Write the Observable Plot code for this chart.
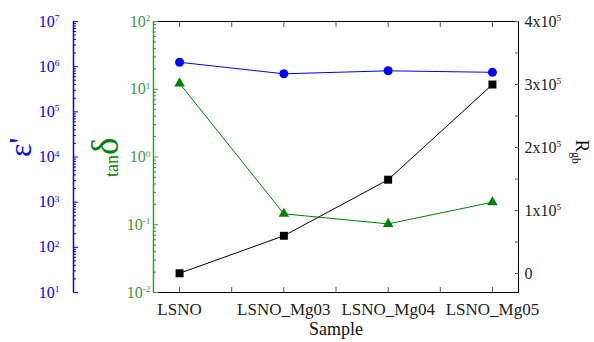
<!DOCTYPE html>
<html><head><meta charset="utf-8">
<script src="https://cdn.jsdelivr.net/npm/d3@7"></script>
<script src="https://cdn.jsdelivr.net/npm/@observablehq/plot@0.6"></script>
<style>
body{margin:0;background:#fff}
#c{position:relative;width:594px;height:342px}
#c svg{position:absolute;left:0;top:0;overflow:visible}
</style>
</head><body><div id="c"></div>
<script>
// ---- data ----
const samples = ["LSNO", "LSNO_Mg03", "LSNO_Mg04", "LSNO_Mg05"];
const epsilon = [1.25e6, 6.95e5, 8.1e5, 7.5e5];     // ε' (log axis)
const tanDelta = [12.2, 0.145, 0.103, 0.215];       // tanδ (log axis)
const rgb = [500, 6.0e4, 1.49e5, 3.0e5];            // R_gb (linear axis)
const epsTicks = [1e1, 1e2, 1e3, 1e4, 1e5, 1e6, 1e7];
const tanTicks = [1e-2, 1e-1, 1e0, 1e1, 1e2];
const rTicks = [0, 1e5, 2e5, 3e5, 4e5];
const rTickLabels = ["0", "1x10^5", "2x10^5", "3x10^5", "4x10^5"];
const rMinor = [0, 5e4, 1e5, 1.5e5, 2e5, 2.5e5, 3e5, 3.5e5, 4e5];
const xTickPos = [0, 0.5, 1, 1.5, 2, 2.5, 3];

// ---- layout ----
const W = 594, H = 342;
const M = {marginLeft: 153, marginRight: 76, marginTop: 21, marginBottom: 50};
const xDomain = [-0.25, 3.25];
const FONT = "Liberation Serif, DejaVu Serif, serif";
const BLUE = "#0000ff", GREEN = "#008000", GREEN_AX = "#3a9a3a", GRAY = "#555";
const rows = samples.map((s, i) => ({i, s, e: epsilon[i], t: tanDelta[i], r: rgb[i]}));
const minorLog = (ticks) => {
  const out = [];
  for (const d of ticks.slice(0, -1)) for (let k = 2; k <= 9; k++) out.push(k * d);
  return out;
};
const logFmt = d => "10^" + Math.round(Math.log10(d));
const base = {width: W, height: H, ...M,
  style: {background: "transparent", overflow: "visible", color: "#000"}};

const main = Plot.plot({
  ...base,
  x: {domain: xDomain, axis: null},
  y: {domain: [-30000, 400000], axis: null},
  marks: [
    Plot.frame({stroke: "#000"}),
    Plot.axisX(rows.map(d => d.i), {anchor: "bottom", tickSize: 0, tickPadding: 10,
      tickFormat: i => samples[i], fontSize: 17, fill: "#222", label: null}),
    Plot.axisX(xTickPos, {anchor: "bottom", tickSize: -5, tickFormat: () => "", stroke: GRAY, label: null}),
    Plot.axisX(xTickPos, {anchor: "top", tickSize: -5, tickFormat: () => "", stroke: GRAY, label: null}),
    Plot.axisY(rTicks, {anchor: "right", tickSize: 0, tickPadding: 6,
      tickFormat: d => rTickLabels[rTicks.indexOf(d)], fontSize: 16, fill: "#222", label: null}),
    Plot.axisY(rMinor, {anchor: "right", tickSize: -4, tickFormat: () => "", stroke: GRAY, label: null}),
    Plot.line(rows, {x: "i", y: "r", stroke: "#000", strokeWidth: 1}),
    Plot.dot(rows, {x: "i", y: "r", symbol: "square", r: 4.5, fill: "#000", stroke: "none"}),
    Plot.text(["Sample"], {frameAnchor: "bottom", dy: 42, fontSize: 18, fill: "#111"}),
    Plot.text(["R_gb"], {frameAnchor: "right", dx: 64, dy: 7, rotate: 90, fontSize: 19, fill: "#111"})
  ]
});

const green = Plot.plot({
  ...base,
  x: {domain: xDomain, axis: null},
  y: {type: "log", domain: [1e-2, 1e2], axis: null},
  marks: [
    Plot.ruleX([xDomain[0]], {stroke: GREEN_AX, strokeWidth: 1.5}),
    Plot.axisY(tanTicks, {anchor: "left", tickSize: 0, tickPadding: 3, tickFormat: logFmt,
      fontSize: 16, fill: GREEN_AX, label: null}),
    Plot.axisY(tanTicks, {anchor: "left", tickSize: -5, tickFormat: () => "", stroke: GREEN_AX, label: null}),
    Plot.axisY(minorLog(tanTicks), {anchor: "left", tickSize: -3, tickFormat: () => "", stroke: GREEN_AX, label: null}),
    Plot.line(rows, {x: "i", y: "t", stroke: GREEN, strokeWidth: 1}),
    Plot.dot(rows, {x: "i", y: "t", symbol: "triangle", r: 3.9, fill: GREEN, stroke: "none"}),
    Plot.text(["tanδ"], {frameAnchor: "left", dx: -41, dy: 20, rotate: -90, fontSize: 18, fill: GREEN})
  ]
});

const blue = Plot.plot({
  ...base,
  x: {domain: xDomain, axis: null},
  y: {type: "log", domain: [1e1, 1e7], axis: null},
  marks: [
    Plot.line(rows, {x: "i", y: "e", stroke: BLUE, strokeWidth: 1}),
    Plot.dot(rows, {x: "i", y: "e", symbol: "circle", r: 4.5, fill: BLUE, stroke: "none"})
  ]
});

const blueAxis = Plot.plot({
  width: W, height: H, marginLeft: 73, marginRight: W - 74, marginTop: M.marginTop, marginBottom: M.marginBottom,
  style: base.style,
  x: {domain: [0, 1], axis: null},
  y: {type: "log", domain: [1e1, 1e7], axis: null},
  marks: [
    Plot.ruleX([0], {stroke: BLUE, strokeWidth: 1.5}),
    Plot.axisY(epsTicks, {anchor: "left", tickSize: 0, tickPadding: 14, tickFormat: logFmt,
      fontSize: 16, fill: BLUE, label: null}),
    Plot.axisY(epsTicks, {anchor: "left", tickSize: -5, tickFormat: () => "", stroke: BLUE, label: null}),
    Plot.axisY(minorLog(epsTicks), {anchor: "left", tickSize: -3, tickFormat: () => "", stroke: BLUE, label: null}),
    Plot.text(["ε'"], {frameAnchor: "left", dx: -53, dy: 0, rotate: -90, fontSize: 32, fill: BLUE})
  ]
});

const c = document.getElementById("c");
for (const svg of [main, green, blue, blueAxis]) {
  svg.style.fontFamily = FONT;
  svg.setAttribute("font-family", FONT);
  c.appendChild(svg);
}

// rich text: superscripts, subscripts, mixed sizes
d3.select(c).selectAll("text").each(function () {
  this.style.setProperty("font-family", FONT, "important");
  const t = this.textContent;
  const sel = d3.select(this);
  let m;
  if ((m = /^(.*)\^(-?\d+)$/.exec(t))) {
    sel.text(m[1]);
    sel.append("tspan").attr("dy", "-0.6em").attr("font-size", "0.58em").text(m[2]);
  } else if (t === "R_gb") {
    sel.text("R");
    sel.append("tspan").attr("dy", "0.4em").attr("font-size", "0.62em").text("gb");
  } else if (t === "tanδ") {
    sel.text("tan");
    sel.append("tspan").attr("font-size", "2.05em").text("δ");
  }
});
</script>
</body></html>
